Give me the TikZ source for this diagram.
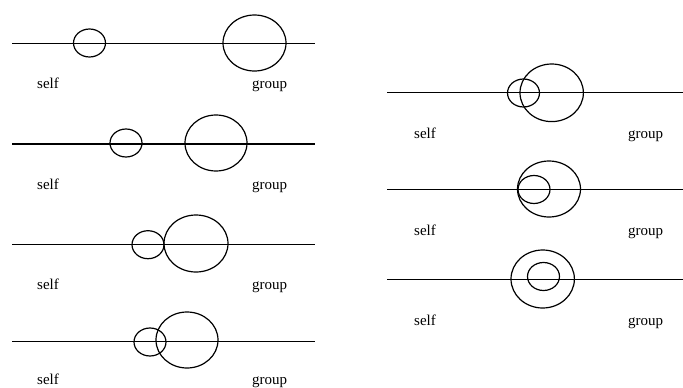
\documentclass[tikz,border=0pt]{standalone}
\usepackage{fontspec}
\setmainfont{Liberation Serif}
\begin{document}
\begin{tikzpicture}[x=1pt,y=-1pt,
  axis/.style={line width=1.1pt},
  ring/.style={line width=1.2pt},
  lab/.style={anchor=base west,inner sep=0pt,font=\fontsize{15}{15}\selectfont}]
\useasboundingbox (0,0) rectangle (683,388);
% left column
\foreach \ly/\sx/\sy/\bx/\by/\brx/\bry/\tb in {
  43.5/89.5/43/254.5/43/31.5/28/45,
  144/126/143/216/143/31/28/45,
  244.3/148/244.7/196/243.5/32/28.5/45,
  341.7/150/342/187/340/31/28/42.3}{
  \draw[axis] (12,\ly) -- (315,\ly);
  \draw[ring] (\sx,\sy) ellipse [x radius=16pt, y radius=14pt];
  \draw[ring] (\bx,\by) ellipse [x radius=\brx pt, y radius=\bry pt];
  \node[lab] at (37,\ly+\tb) {self};
  \node[lab] at (252,\ly+\tb) {group};
}
% right column
\foreach \ly/\sx/\sy/\bx/\by/\brx/\bry in {
  92.7/523.5/93/551.7/92.8/31.7/28.8,
  189.3/534/189.5/549/189/31.5/28,
  279.3/543.5/276.5/542.7/279/31.7/29}{
  \draw[axis] (387,\ly) -- (683,\ly);
  \draw[ring] (\sx,\sy) ellipse [x radius=16pt, y radius=14pt];
  \draw[ring] (\bx,\by) ellipse [x radius=\brx pt, y radius=\bry pt];
  \node[lab] at (414,\ly+46) {self};
  \node[lab] at (628,\ly+46) {group};
}
\end{tikzpicture}
\end{document}
